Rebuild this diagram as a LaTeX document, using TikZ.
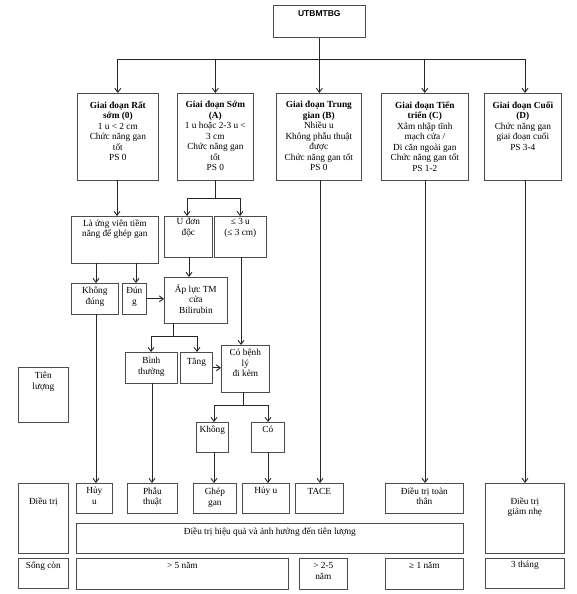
\documentclass[tikz,border=0pt]{standalone}
\usepackage{fontspec}
\setmainfont{Liberation Serif}
\newfontfamily\hdfont{Liberation Sans}
\usetikzlibrary{arrows.meta}
\tikzset{
  box/.style={draw=black!70, line width=0.7pt, inner sep=0pt, anchor=north west,
    font=\fontsize{9.3}{10.5}\selectfont},
  ln/.style={draw=black!85, line width=0.8pt},
  arr/.style={ln, -{Straight Barb[length=4pt,width=6pt,line width=0.9pt]}}
}
% #1 pad, #2 name, #3 x, #4 y, #5 w, #6 h, #7 text
\newcommand\bx[7][5]{\node[box] (#2) at (#3,#4) {\parbox[c][#6pt][t]{#5pt}{\centering\vspace*{#1pt}#7\par}};}
\begin{document}
\begin{tikzpicture}[x=1pt,y=-1pt]
\useasboundingbox (0,0) rectangle (576,594);
% top
\bx[5]{top}{273}{5}{92}{32}{\hdfont\bfseries\fontsize{8.5}{9.8}\selectfont UTBMTBG}
% stages
\bx[8]{s0}{77}{93}{81}{87}{\textbf{Giai đoạn Rất}\\\textbf{sớm (0)}\\1 u < 2 cm\\Chức năng gan\\tốt\\PS 0}
\bx[8]{sA}{177}{93}{76}{87}{\textbf{Giai đoạn Sớm}\\\textbf{(A)}\\1 u hoặc 2-3 u <\\3 cm\\Chức năng gan\\tốt\\PS 0}
\bx[8]{sB}{276}{93}{85}{87}{\textbf{Giai đoạn Trung}\\\textbf{gian (B)}\\Nhiều u\\Không phẫu thuật\\được\\Chức năng gan tốt\\PS 0}
\bx[8]{sC}{381}{93}{87}{87}{\textbf{Giai đoạn Tiến}\\\textbf{triển (C)}\\Xâm nhập tĩnh\\mạch cửa /\\Di căn ngoài gan\\Chức năng gan tốt\\PS 1-2}
\bx[8]{sD}{484}{93}{77}{87}{\textbf{Giai đoạn Cuối}\\\textbf{(D)}\\Chức năng gan\\giai đoạn cuối\\PS 3-4}
% middle
\bx[3]{lung}{71}{216}{87}{47}{Là ứng viên tiềm\\năng để ghép gan}
\bx[2]{udon}{164}{216}{48}{41}{U đơn\\độc}
\bx[2]{le3}{214}{216}{52}{41}{≤ 3 u\\(≤ 3 cm)}
\bx[4]{kd}{71}{283}{47}{31}{Không\\đúng}
\bx[4]{dung}{122}{283}{24}{31}{Đún\\g}
\bx[7]{apluc}{164}{277}{63}{46}{Áp lực TM\\cửa\\Bilirubin}
\bx[5]{binh}{125}{352}{52}{31}{Bình\\thường}
\bx[6]{tang}{180}{352}{32}{31}{Tăng}
\bx[4]{cobl}{221}{345}{48}{47}{Có bệnh\\lý\\đi kèm}
\bx[4]{khong}{196}{422}{32}{30}{Không}
\bx[4]{co}{251}{422}{33}{30}{Có}
\bx[5]{tienl}{18}{367}{50}{55}{Tiên\\lượng}
% treatment
\bx[14]{dtlabel}{18}{483}{50}{70}{Điều trị}
\bx[4]{huy1}{76}{483}{36}{30}{Hủy\\u}
\bx[4]{phau}{127}{483}{50}{30}{Phẫu\\thuật}
\bx[5]{ghep}{193}{483}{43}{30}{Ghép\\gan}
\bx[4]{huy2}{242}{483}{47}{30}{Hủy u}
\bx[5]{tace}{295}{483}{48}{30}{TACE}
\bx[4]{toan}{385}{483}{78}{30}{Điều trị toàn\\thân}
\bx[14]{giam}{485}{483}{79}{70}{Điều trị\\giảm nhẹ}
\bx[4]{hieuqua}{76}{523}{387}{30}{Điều trị hiệu quả và ảnh hưởng đến tiên lượng}
% survival
\bx[3]{scon}{18}{558}{50}{30}{Sống còn}
\bx[4]{nam5}{76}{558}{212}{31}{> 5 năm}
\bx[4]{nam25}{299}{558}{48}{31}{> 2-5\\năm}
\bx[4]{nam1}{385}{558}{78}{31}{≥ 1 năm}
\bx[3]{thang}{485}{558}{79}{30}{3 tháng}
% connectors top
\coordinate (hj) at (319,59);
\draw[ln] (top.south) -- (top.south |- hj);
\draw[ln] (s0.north |- hj) -- (525,59) coordinate (hjr);
\draw[arr] (s0.north |- hj) -- (s0.north);
\draw[arr] (sA.north |- hj) -- (sA.north);
\draw[arr] (top.south |- hj) -- (top.south |- sB.north);
\draw[arr] (sC.north |- hj) -- (sC.north);
\draw[arr] (hjr) -- (hjr |- sD.north);
% stage 0
\draw[arr] (117,180) -- (117,216);
\draw[arr] (96,263) -- (96,283);
\draw[arr] (136,263) -- (136,283);
\draw[arr] (dung.east) -- (dung.east -| apluc.west);
% stage A
\coordinate (aj) at (215,198);
\draw[ln] (215,180) -- (aj);
\draw[ln] (187,198) -- (240,198);
\draw[arr] (187,198) -- (187,216);
\draw[arr] (240,198) -- (240,216);
\draw[arr] (189,257) -- (189,277);
\draw[arr] (241,257) -- (241,345);
\draw[ln] (173,323) -- (173,336);
\draw[ln] (151,336) -- (197,336);
\draw[arr] (151,336) -- (151,352);
\draw[arr] (197,336) -- (197,352);
\draw[arr] (tang.east) -- (tang.east -| cobl.west);
\draw[ln] (243,392) -- (243,405);
\draw[ln] (214,405) -- (268,405);
\draw[arr] (214,405) -- (214,422);
\draw[arr] (268,405) -- (268,422);
% down to treatment
\draw[arr] (96,314) -- (96,483);
\draw[arr] (152,383) -- (152,483);
\draw[arr] (214,452) -- (214,483);
\draw[arr] (268,452) -- (268,483);
\draw[arr] (320,180) -- (320,483);
\draw[arr] (425,180) -- (425,483);
\draw[arr] (525,180) -- (525,483);
\end{tikzpicture}
\end{document}
